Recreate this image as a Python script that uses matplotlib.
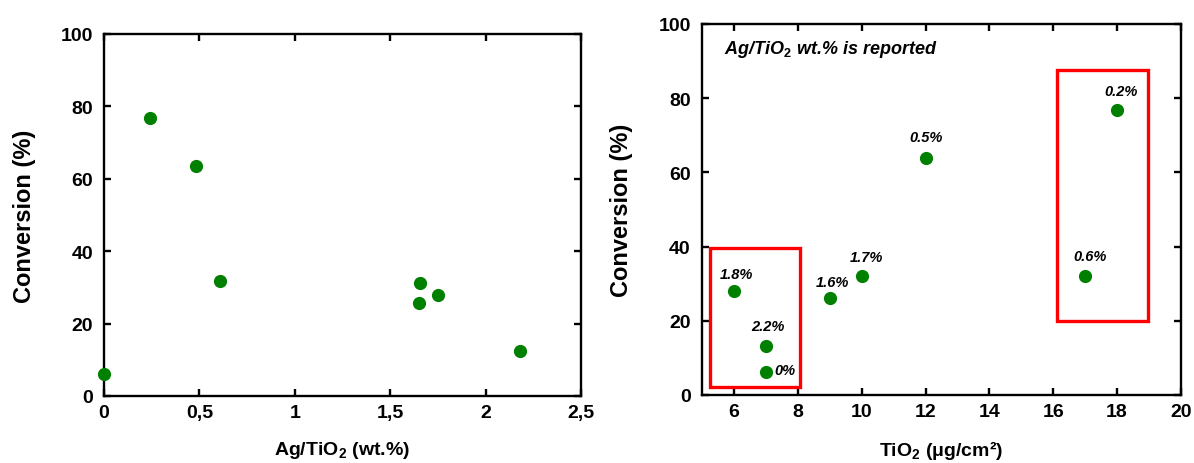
import matplotlib
matplotlib.use("Agg")
import matplotlib.pyplot as plt
from matplotlib.patches import Rectangle
from matplotlib.ticker import FixedLocator

plt.rcParams["font.family"] = ["Liberation Sans", "DejaVu Sans"]
plt.rcParams["font.weight"] = "bold"
plt.rcParams["mathtext.fontset"] = "custom"
plt.rcParams["mathtext.rm"] = "Liberation Sans:bold"
plt.rcParams["mathtext.it"] = "Liberation Sans:bold:italic"
plt.rcParams["mathtext.default"] = "rm"

# left panel: conversion vs Ag loading
ag_wt = [0.0, 0.24, 0.48, 0.61, 1.657, 1.65, 1.75, 2.18]
conv_ag = [6.1, 76.7, 63.5, 31.8, 31.3, 25.6, 27.9, 12.5]
ag_ticks = [0, 0.5, 1, 1.5, 2, 2.5]
ag_tick_labels = ["0", "0,5", "1", "1,5", "2", "2,5"]

# right panel: conversion vs TiO2 loading, labelled by Ag wt.%
tio2 = [6, 7, 7, 9, 10, 12, 18, 17]
conv_tio2 = [28.0, 13.1, 6.2, 26.1, 32.1, 63.9, 76.9, 32.1]
point_labels = ["1.8%", "2.2%", "0%", "1.6%", "1.7%", "0.5%", "0.2%", "0.6%"]
tio2_ticks = [6, 8, 10, 12, 14, 16, 18, 20]
y_ticks = [0, 20, 40, 60, 80, 100]

# label offsets in pixels, and highlight boxes (x0, y0, x1, y1)
label_offsets = [(3, 17), (2, 20), (9, 2), (3, 16), (5, 19), (1, 21), (4, 19), (5, 20)]
boxes = [(5.26, 2.2, 8.08, 39.6), (16.12, 19.9, 18.98, 87.6)]

GREEN = "#008000"


def style_axes(ax):
    for sp in ax.spines.values():
        sp.set_linewidth(1.7)
    ax.tick_params(direction="in", which="both", top=True, right=True,
                   length=5, width=1.7, labelsize=14)
    ax.tick_params(axis="x", pad=6)
    ax.tick_params(axis="y", pad=8)
    for lab in ax.get_xticklabels() + ax.get_yticklabels():
        lab.set_fontweight("bold")


fig = plt.figure(figsize=(11.94, 4.64), dpi=100)
ax1 = fig.add_axes([0.0871, 0.1444, 0.3995, 0.7802])
ax2 = fig.add_axes([0.5879, 0.1466, 0.4012, 0.7996])

# left
ax1.scatter(ag_wt, conv_ag, s=72, color=GREEN, zorder=3, clip_on=False)
ax1.set_xlim(0, 2.5)
ax1.set_ylim(0, 100)
ax1.xaxis.set_major_locator(FixedLocator(ag_ticks))
ax1.set_xticklabels(ag_tick_labels)
ax1.set_yticks(y_ticks)
ax1.set_xlabel(r"Ag/TiO$_2$ (wt.%)", fontsize=14, fontweight="bold", labelpad=13)
ax1.set_ylabel("Conversion (%)", fontsize=17, fontweight="bold", labelpad=18)
style_axes(ax1)

# right
ax2.scatter(tio2, conv_tio2, s=72, color=GREEN, zorder=3)
for x, y, lab, (dx, dy) in zip(tio2, conv_tio2, point_labels, label_offsets):
    ha = "left" if lab == "0%" else "center"
    ax2.annotate(lab, (x, y), xytext=(dx, dy), textcoords="offset pixels",
                 ha=ha, va="center", fontsize=10.5, fontweight="bold", style="italic")
for x0, y0, x1, y1 in boxes:
    ax2.add_patch(Rectangle((x0, y0), x1 - x0, y1 - y0, fill=False,
                            edgecolor="#ff0000", linewidth=2.4, zorder=2))
ax2.text(0.046, 0.935, r"Ag/TiO$_\mathit{2}$ wt.% is reported", transform=ax2.transAxes,
         fontsize=13, fontweight="bold", style="italic", ha="left", va="center")
ax2.set_xlim(5, 20)
ax2.set_ylim(0, 100)
ax2.set_xticks(tio2_ticks)
ax2.set_yticks(y_ticks)
ax2.set_xlabel("TiO$_2$ (μg/cm²)", fontsize=14, fontweight="bold", labelpad=13)
ax2.set_ylabel("Conversion (%)", fontsize=17, fontweight="bold", labelpad=18)
style_axes(ax2)

fig.savefig("out.png", dpi=100)
